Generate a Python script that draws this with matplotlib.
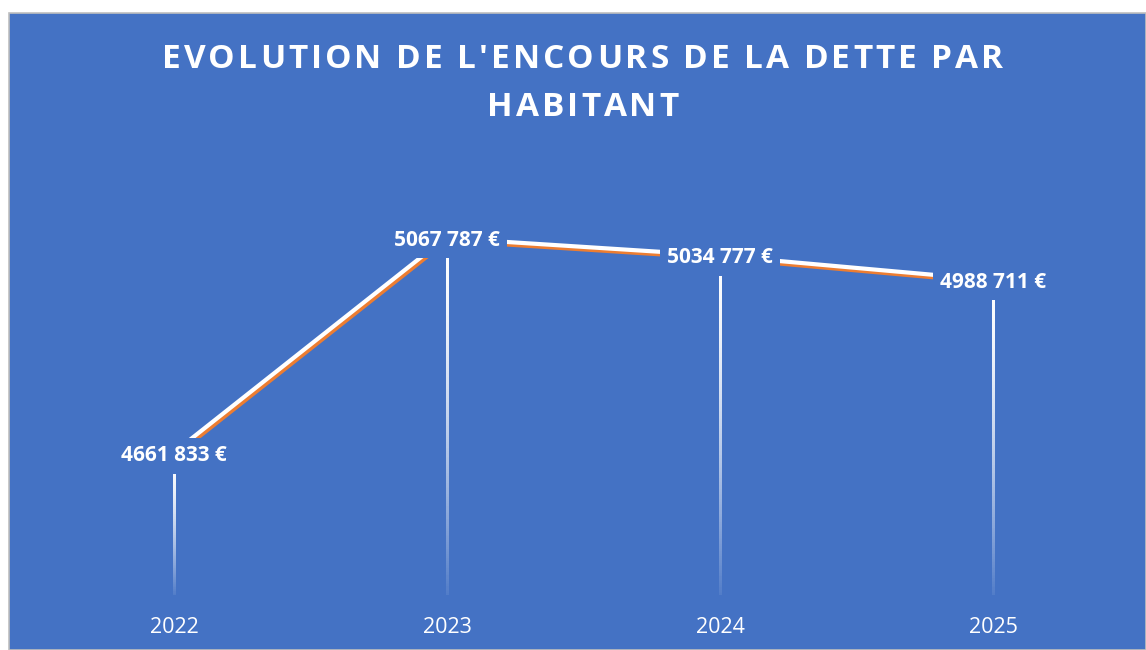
import numpy as np
import matplotlib
matplotlib.use("Agg")
import matplotlib.pyplot as plt
from matplotlib.patches import Rectangle
import matplotlib.patheffects as pe

# données
annees = ["2022", "2023", "2024", "2025"]
dette_par_habitant = [4661833, 5067787, 5034777, 4988711]
etiquettes = ["4661 833 €", "5067 787 €", "5034 777 €", "4988 711 €"]
titre_l1 = "EVOLUTION DE L'ENCOURS DE LA DETTE PAR"
titre_l2 = "HABITANT"

BLEU = "#4472C4"
ORANGE = "#ED7D31"
W, H = 1146, 650

fig = plt.figure(figsize=(W / 100, H / 100), dpi=100, facecolor="white")
# fond bleu de la zone graphique
fig.patches.append(Rectangle((9 / W, 0), (W - 9) / W, (H - 13) / H, transform=fig.transFigure,
                             facecolor=BLEU, edgecolor="#BFBFBF", linewidth=1.2, zorder=-1))

ax = fig.add_axes([37.5 / W, 1 - 595 / H, (1129.5 - 37.5) / W, (595 - 170) / H])
ax.set_facecolor("none")
for s in ax.spines.values():
    s.set_visible(False)
ax.set_yticks([])
x = np.arange(len(annees))
ax.set_xticks(x)
ax.set_xticklabels(annees, color="white", fontsize=15.5, family="Open Sans")
ax.tick_params(axis="x", length=0, pad=16)

# lignes de projection avec dégradé (blanc -> transparent)
ymin, ymax = 4400000, 5200000
px = 4.0 / 1092  # un pixel en unités de x
t = np.linspace(0, 1, 200)[:, None]
grad = np.zeros((200, 1, 4))
grad[..., :3] = 1.0
grad[..., 3] = 1 - 0.92 * t ** 1.6
for xi, v in zip(x, dette_par_habitant):
    ax.imshow(grad, extent=(xi - 1.2 * px, xi + 1.2 * px, ymin, v), origin="upper",
              aspect="auto", interpolation="nearest", zorder=2)
ax.set_xlim(-0.5, 3.5)
ax.set_ylim(ymin, ymax)

# courbe orange avec reflet blanc
ax.plot(x, dette_par_habitant, color=ORANGE, linewidth=3.6, solid_capstyle="butt", zorder=3,
        path_effects=[pe.Normal(),
                      pe.Stroke(offset=(-1.2, 1.6), linewidth=3.0, foreground="white")])

# étiquettes de données
for xi, v, lab in zip(x, dette_par_habitant, etiquettes):
    ax.text(xi, v, lab, ha="center", va="center", color="white", fontsize=15,
            fontweight="bold", family="Open Sans", zorder=5,
            bbox=dict(boxstyle="square,pad=0.35", facecolor=BLEU, edgecolor="none"))

# titre avec espacement des lettres
renderer = fig.canvas.get_renderer()


def largeur(s, size):
    t = fig.text(0, 0, s, fontsize=size, fontweight="bold", family="Open Sans")
    w = t.get_window_extent(renderer).width
    t.remove()
    return w


def titre_espace(texte, xc, y_px, size, track):
    base = largeur("HH", size)
    ws = [largeur("H" + c + "H", size) - base for c in texte]
    total = sum(ws) + track * (len(texte) - 1)
    xp = xc - total / 2
    for c, w in zip(texte, ws):
        fig.text(xp / W, 1 - y_px / H, c, fontsize=size, fontweight="bold",
                 family="Open Sans", color="white", ha="left", va="baseline")
        xp += w + track


titre_espace(titre_l1, 582.5, 68, 24, 3.0)
titre_espace(titre_l2, 583, 116, 24, 3.0)

fig.savefig("out.png", dpi=100, facecolor="white")
